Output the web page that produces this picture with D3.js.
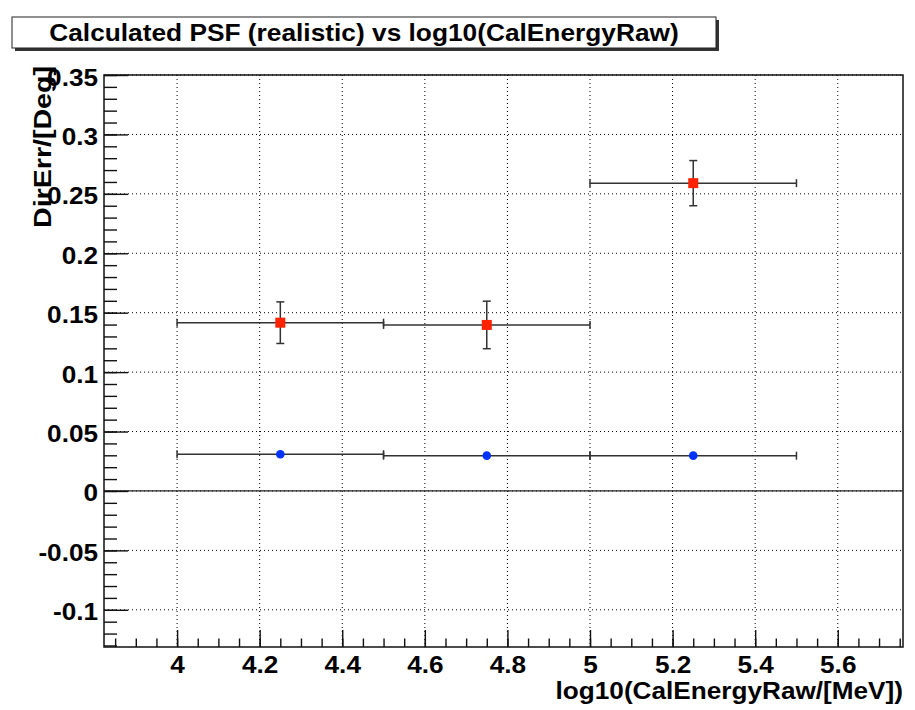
<!DOCTYPE html>
<html><head><meta charset="utf-8">
<script src="https://cdn.jsdelivr.net/npm/d3@7"></script>
<style>body{margin:0;background:#fff}svg{display:block}</style>
</head><body>
<script>
const title = "Calculated PSF (realistic) vs log10(CalEnergyRaw)";
const xLabel = "log10(CalEnergyRaw/[MeV])";
const yLabel = "DirErr/[Deg]";
const xTicks = [4, 4.2, 4.4, 4.6, 4.8, 5, 5.2, 5.4, 5.6];
const yTicks = [-0.1, -0.05, 0, 0.05, 0.1, 0.15, 0.2, 0.25, 0.3, 0.35];
const binCenters = [4.25, 4.75, 5.25];
const binHalfWidth = [0.25, 0.25, 0.25];
const redValues = [0.1416, 0.1397, 0.259];
const redErrors = [0.0175, 0.02, 0.019];
const blueValues = [0.0309, 0.0297, 0.0297];
const blueErrors = [0.0005, 0.0005, 0.0005];

const W = 915, H = 710;
const frame = {l: 104, r: 903, t: 75, b: 647};
const svg = d3.select("body").append("svg").attr("width", W).attr("height", H);
const font = "'Liberation Sans', Arial, Helvetica, sans-serif";
const FS = 24, STRETCH = 1.09;

function stretch(sel, f) {
  sel.each(function () {
    const l = this.getComputedTextLength();
    d3.select(this).attr("textLength", l * f).attr("lengthAdjust", "spacingAndGlyphs");
  });
}

const x = d3.scaleLinear().domain([3.823, 5.758]).range([frame.l, frame.r]);
const y = d3.scaleLinear().domain([-0.1313, 0.35]).range([frame.b, frame.t]);

// title box
svg.append("rect").attr("x", 15).attr("y", 20).attr("width", 704).attr("height", 31).attr("fill", "#333");
svg.append("rect").attr("x", 12).attr("y", 17).attr("width", 704).attr("height", 31)
  .attr("fill", "#fff").attr("stroke", "#222").attr("stroke-width", 1);
svg.append("text").attr("x", 364).attr("y", 41).attr("text-anchor", "middle")
  .attr("font-family", font).attr("font-weight", "bold").attr("font-size", FS)
  .attr("fill", "#000").text(title).call(s => stretch(s, 1.095));

// grid
const g = svg.append("g");
g.selectAll(".vg").data(xTicks).join("line")
  .attr("x1", d => x(d)).attr("x2", d => x(d)).attr("y1", frame.t).attr("y2", frame.b)
  .attr("stroke", "#000").attr("stroke-width", 1).attr("stroke-dasharray", "1,3");
g.selectAll(".hg").data(yTicks).join("line")
  .attr("x1", frame.l).attr("x2", frame.r).attr("y1", d => y(d)).attr("y2", d => y(d))
  .attr("stroke", "#000").attr("stroke-width", 1).attr("stroke-dasharray", "1,3");

// frame
svg.append("rect").attr("x", frame.l).attr("y", frame.t)
  .attr("width", frame.r - frame.l).attr("height", frame.b - frame.t)
  .attr("fill", "none").attr("stroke", "#111").attr("stroke-width", 1.5);

// zero line
svg.append("line").attr("x1", frame.l).attr("x2", frame.r).attr("y1", y(0)).attr("y2", y(0))
  .attr("stroke", "#222").attr("stroke-width", 1.3);

// axes
const yMinor = d3.range(-0.13, 0.3501, 0.01).map(v => Math.round(v * 1000) / 1000);
const xMinor = d3.range(3.85, 5.751, 0.05).map(v => Math.round(v * 1000) / 1000);
const yAxis = d3.axisLeft(y).tickValues(yTicks).tickSize(-24).tickPadding(6)
  .tickFormat(d => String(Math.round(d * 100) / 100));
const yAxisMinor = d3.axisLeft(y).tickValues(yMinor).tickSize(-13).tickFormat("");
const xAxis = d3.axisBottom(x).tickValues(xTicks).tickSize(-17).tickPadding(26)
  .tickFormat(d => String(Math.round(d * 10) / 10));
const xAxisMinor = d3.axisBottom(x).tickValues(xMinor).tickSize(-8.5).tickFormat("");

function styleAxis(sel) {
  sel.select(".domain").remove();
  sel.selectAll("line").attr("stroke", "#111").attr("stroke-width", 1.4);
  sel.selectAll("text").attr("font-family", font).attr("font-weight", "bold")
    .attr("font-size", FS).attr("fill", "#000");
}
svg.append("g").attr("transform", `translate(${frame.l},0)`).call(yAxisMinor).call(styleAxis);
svg.append("g").attr("transform", `translate(${frame.l},0)`).call(yAxis).call(styleAxis)
  .selectAll("text").attr("dy", 10).call(s => stretch(s, STRETCH));
svg.append("g").attr("transform", `translate(0,${frame.b})`).call(xAxisMinor).call(styleAxis);
svg.append("g").attr("transform", `translate(0,${frame.b})`).call(xAxis).call(styleAxis)
  .selectAll("text").attr("dy", 0).call(s => stretch(s, STRETCH));

// axis titles
svg.append("text").attr("x", frame.r).attr("y", 699).attr("text-anchor", "end")
  .attr("font-family", font).attr("font-weight", "bold").attr("font-size", FS).text(xLabel)
  .call(s => stretch(s, STRETCH));
svg.append("text").attr("transform", `translate(51,66) rotate(-90)`).attr("text-anchor", "end")
  .attr("font-family", font).attr("font-weight", "bold").attr("font-size", FS).text(yLabel)
  .attr("textLength", 162).attr("lengthAdjust", "spacingAndGlyphs");

// data
const errColor = "#333", cap = 4;
function drawSeries(vals, errs, kind, color) {
  const s = svg.append("g");
  vals.forEach((v, i) => {
    const cx = x(binCenters[i]), cy = y(v);
    const x0 = x(binCenters[i] - binHalfWidth[i]), x1 = x(binCenters[i] + binHalfWidth[i]);
    const y0 = y(v - errs[i]), y1 = y(v + errs[i]);
    s.append("line").attr("x1", x0).attr("x2", x1).attr("y1", cy).attr("y2", cy)
      .attr("stroke", errColor).attr("stroke-width", 1.5);
    [x0, x1].forEach(xx => s.append("line").attr("x1", xx).attr("x2", xx)
      .attr("y1", cy - cap).attr("y2", cy + cap).attr("stroke", errColor).attr("stroke-width", 1.5));
    if (y0 - y1 > 8) {
      s.append("line").attr("x1", cx).attr("x2", cx).attr("y1", y0).attr("y2", y1)
        .attr("stroke", errColor).attr("stroke-width", 1.5);
      [y0, y1].forEach(yy => s.append("line").attr("x1", cx - cap).attr("x2", cx + cap)
        .attr("y1", yy).attr("y2", yy).attr("stroke", errColor).attr("stroke-width", 1.5));
    }
    if (kind === "square") {
      s.append("rect").attr("x", cx - 5).attr("y", cy - 5).attr("width", 10).attr("height", 10).attr("fill", color);
    } else {
      s.append("circle").attr("cx", cx).attr("cy", cy).attr("r", 4.3).attr("fill", color);
    }
  });
}
drawSeries(redValues, redErrors, "square", "#ff2200");
drawSeries(blueValues, blueErrors, "circle", "#0033ff");
</script>
</body></html>
